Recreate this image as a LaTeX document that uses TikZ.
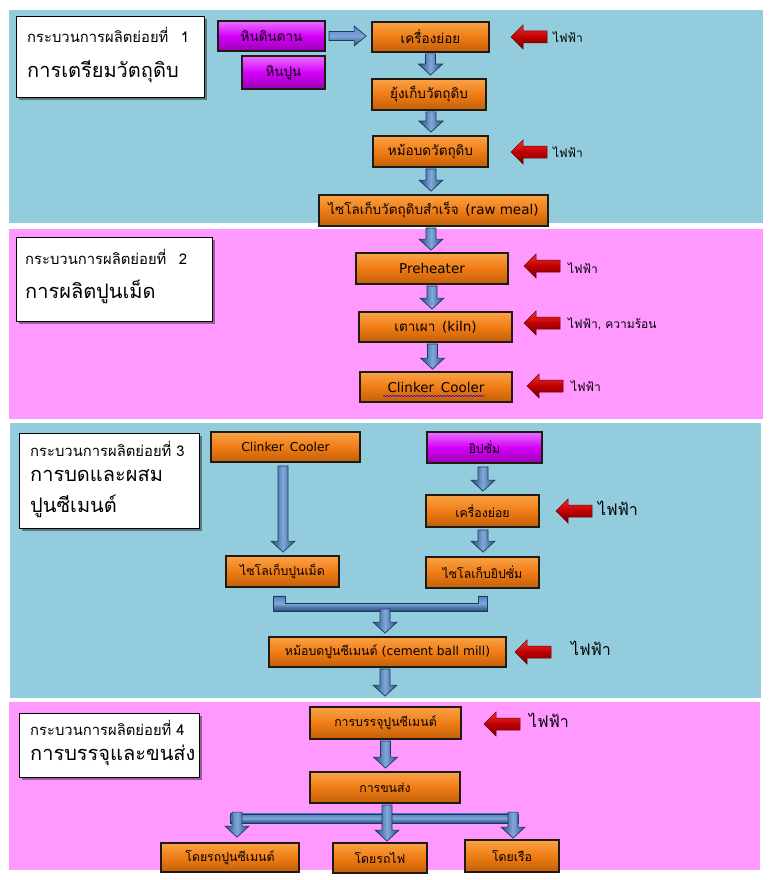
\documentclass[tikz,border=0pt]{standalone}
\usepackage{fontspec}
\setmainfont[Script=Thai]{Loma}
\newfontfamily\lat[Scale=1.0]{DejaVu Sans}
\usetikzlibrary{calc,shadows,decorations.pathmorphing}
\definecolor{secblue}{HTML}{93CDDD}
\definecolor{secpink}{HTML}{FF99FF}
\definecolor{orM}{HTML}{F07C14}
\definecolor{orL}{HTML}{F9A347}
\definecolor{orD}{HTML}{C05F0A}
\definecolor{mgM}{HTML}{D500F8}
\definecolor{mgL}{HTML}{E870FF}
\definecolor{mgD}{HTML}{9A00B4}
\definecolor{edgec}{HTML}{1E1A14}
\definecolor{bM}{HTML}{4F81BD}
\definecolor{bL}{HTML}{7FA8DA}
\definecolor{bD}{HTML}{264B78}
\definecolor{bE}{HTML}{1C3A60}
\definecolor{rM}{HTML}{C00000}
\definecolor{rL}{HTML}{F03030}
\definecolor{rD}{HTML}{700000}
\newcommand\bdown[2]{%
  \shadedraw[bluearr] let \p1=#1, \p2=#2 in
   (\x1-5pt,\y1) -- (\x1-5pt,\y2+11pt) -- (\x1-12pt,\y2+11pt) -- (\x1,\y2)
   -- (\x1+12pt,\y2+11pt) -- (\x1+5pt,\y2+11pt) -- (\x1+5pt,\y1) -- cycle;}
\newcommand\redarr[1]{%
  \shadedraw[redarr] let \p1=#1 in
   (\x1,\y1) -- (\x1+12pt,\y1+12pt) -- (\x1+12pt,\y1+6pt) -- (\x1+36pt,\y1+6pt)
   -- (\x1+36pt,\y1-6pt) -- (\x1+12pt,\y1-6pt) -- (\x1+12pt,\y1-12pt) -- cycle;}
\begin{document}
\begin{tikzpicture}[x=1pt,y=-1pt,
 obox/.style={draw=edgec, line width=1.8pt, top color=orL, bottom color=orD, middle color=orM, inner sep=0pt, font=\fontsize{13.5}{15}\selectfont},
 sbox/.style={obox, font=\fontsize{12.3}{14}\selectfont},
 mbox/.style={obox, top color=mgL, bottom color=mgD, middle color=mgM},
 tbox/.style={draw=black, line width=1.2pt, fill=white, drop shadow={shadow xshift=2pt, shadow yshift=-2pt, opacity=0.4, fill=black}, inner sep=0pt, anchor=north west},
 bluearr/.style={draw=bE, line width=0.7pt, left color=bD, right color=bD, middle color=bL},
 pipe/.style={draw=bE, line width=0.7pt, top color=bM, bottom color=bD, middle color=bL},
 redarr/.style={draw=rD, line width=0.5pt, top color=rL, bottom color=rD, middle color=rM},
 elab/.style={anchor=west, inner sep=0pt, font=\fontsize{12}{14}\selectfont},
 elabL/.style={anchor=west, inner sep=0pt, font=\fontsize{16}{18}\selectfont},
 ttl/.style={anchor=west, inner sep=0pt, font=\fontsize{14.8}{16}\selectfont},
 ttlL/.style={anchor=west, inner sep=0pt, font=\fontsize{20}{22}\selectfont},
]
\useasboundingbox (0,0) rectangle (770,880);
% section panels
\fill[secblue] (9,10) rectangle (763,223);
\fill[secpink] (9,229) rectangle (763,419);
\fill[secblue] (10,423) rectangle (761,698);
\fill[secpink] (9,702) rectangle (760,870);

% title boxes
\node[tbox, minimum width=188pt, minimum height=81pt] (t1) at (16,16) {};
\node[ttl] (t1a) at (27,35) {กระบวนการผลิตย่อยที่\enspace\ 1};
\node[ttlL] (t1b) at (27,72) {การเตรียมวัตถุดิบ};
\node[tbox, minimum width=196pt, minimum height=84pt] (t2) at (16,237) {};
\node[ttl] (t2a) at (25,257) {กระบวนการผลิตย่อยที่\enspace\ 2};
\node[ttlL] (t2b) at (25,292) {การผลิตปูนเม็ด};
\node[tbox, minimum width=180pt, minimum height=95pt] (t3) at (19,433) {};
\node[ttl] (t3a) at (30,449) {กระบวนการผลิตย่อยที่ 3};
\node[ttlL] (t3b) at (30,476) {การบดและผสม};
\node[ttlL] (t3c) at (30,506) {ปูนซีเมนต์};
\node[tbox, minimum width=180pt, minimum height=64pt] (t4) at (19,713) {};
\node[ttl] (t4a) at (30,728) {กระบวนการผลิตย่อยที่ 4};
\node[ttlL] (t4b) at (30,755) {การบรรจุและขนส่ง};

% section 1
\node[mbox, minimum width=107pt, minimum height=30pt] (hindin) at (271.5,36) {หินดินดาน};
\node[mbox, minimum width=83pt, minimum height=33pt] (hinpun) at (283.5,72.5) {หินปูน};
\node[obox, minimum width=117pt, minimum height=30pt] (crush1) at (430.5,37) {เครื่องย่อย};
\node[obox, minimum width=114pt, minimum height=31pt] (store) at (429,94.5) {ยุ้งเก็บวัตถุดิบ};
\node[obox, minimum width=115pt, minimum height=31pt] (mill1) at (430.5,151.5) {หม้อบดวัตถุดิบ};
\node[obox, minimum width=229pt, minimum height=31pt] (rawsilo) at (433.5,210.5) {ไซโลเก็บวัตถุดิบสำเร็จ\enspace{\lat (raw meal)}};

% section 2
\node[obox, minimum width=152pt, minimum height=31pt] (pre) at (432,268.5) {\lat Preheater};
\node[obox, minimum width=153pt, minimum height=30pt] (kiln) at (435.5,327) {เตาเผา\enspace{\lat (kiln)}};
\node[obox, minimum width=152pt, minimum height=30pt] (cool) at (436,387) {\lat Clinker\enspace Cooler};
\draw[blue!60!violet, line width=0.5pt, decorate, decoration={snake, amplitude=0.7pt, segment length=3pt}]
  ($(cool.center)+(-53,9)$) -- ($(cool.center)+(49,9)$);

% section 3
\node[sbox, minimum width=149pt, minimum height=30pt] (cool2) at (285.5,447) {\lat Clinker\enspace Cooler};
\node[sbox, top color=mgL, bottom color=mgD, middle color=mgM, minimum width=115pt, minimum height=31pt] (gyp) at (484.5,447.5) {ยิปซั่ม};
\node[sbox, minimum width=113pt, minimum height=32pt] (crush2) at (482.5,511) {เครื่องย่อย};
\node[sbox, minimum width=113pt, minimum height=31pt] (silo1) at (282.5,571.5) {ไซโลเก็บปูนเม็ด};
\node[sbox, minimum width=113pt, minimum height=31pt] (silo2) at (482.5,572.5) {ไซโลเก็บยิปซั่ม};
\node[sbox, minimum width=237pt, minimum height=30pt] (mill2) at (387.5,652) {หม้อบดปูนซีเมนต์ {\lat (cement ball mill)}};

% section 4
\node[sbox, minimum width=151pt, minimum height=32pt] (pack) at (385.5,723) {การบรรจุปูนซีเมนต์};
\node[sbox, minimum width=150pt, minimum height=31pt] (trans) at (385,787.5) {การขนส่ง};
\node[sbox, minimum width=138pt, minimum height=29pt] (truck) at (230,857.5) {โดยรถปูนซีเมนต์};
\node[sbox, minimum width=94pt, minimum height=30pt] (train) at (380,858) {โดยรถไฟ};
\node[sbox, minimum width=94pt, minimum height=32pt] (ship) at (512,856) {โดยเรือ};

% blue connectors
\shadedraw[pipe] let \p1=($(hindin.east)+(3,0)$), \p2=($(crush1.west)+(-5,0)$) in
  (\x1,\y1+4.5pt) -- (\x2-12pt,\y1+4.5pt) -- (\x2-12pt,\y1+10pt) -- (\x2,\y1)
  -- (\x2-12pt,\y1-10pt) -- (\x2-12pt,\y1-4.5pt) -- (\x1,\y1-4.5pt) -- cycle;
\bdown{($(crush1.south)+(0,1)$)}{($(store.north)+(0,-3)$)}
\bdown{($(store.south)+(2,1)$)}{($(mill1.north)+(0,-3)$)}
\bdown{($(mill1.south)+(0.5,1)$)}{($(rawsilo.north)+(0,-3)$)}
\bdown{($(rawsilo.south)+(-2.5,1)$)}{($(pre.north)+(0,-2)$)}
\bdown{($(pre.south)+(0,1)$)}{($(kiln.north)+(0,-2)$)}
\bdown{($(kiln.south)+(-3,1)$)}{($(cool.north)+(0,-2)$)}
\bdown{($(cool2.south)+(-2.5,3)$)}{($(silo1.north)+(0,-3)$)}
\bdown{($(gyp.south)+(-1.5,3)$)}{($(crush2.north)+(0,-3)$)}
\bdown{($(crush2.south)+(0.5,2)$)}{($(silo2.north)+(0,-4)$)}
\shadedraw[pipe] let \p1=(silo1.south), \p2=(silo2.south) in
  (\x1-9.5pt,\y1-8pt) -- (\x1+2.5pt,\y1-8pt) -- (\x1+2.5pt,\y1-15pt) -- (\x2-4.5pt,\y1-15pt)
  -- (\x2-4.5pt,\y1-8pt) -- (\x2+4.5pt,\y1-8pt) -- (\x2+4.5pt,\y1-23pt) -- (\x1-9.5pt,\y1-23pt) -- cycle;
\bdown{($(mill2.north)+(-2.5,-27)$)}{($(mill2.north)+(0,-3)$)}
\bdown{($(mill2.south)+(-2.5,1)$)}{($(pack.north)+(0,-10)$)}
\bdown{($(pack.south)+(0,1)$)}{($(trans.north)+(0,-3)$)}
\shadedraw[pipe] let \p1=(trans.south), \p2=(truck.north), \p3=(ship.north) in
  (\x2,\y1-10pt) -- (\x3+6pt,\y1-10pt) -- (\x3+6pt,\y1-19pt) -- (\x2,\y1-19pt) -- cycle;
\bdown{($(truck.north)+(7,-30)$)}{($(truck.north)+(7,-5)$)}
\bdown{($(ship.north)+(1,-27)$)}{($(ship.north)+(1,-1)$)}
\bdown{($(trans.south)+(2,1)$)}{($(train.north)+(0,-1)$)}

% red energy arrows and labels
\redarr{(511,37)}
\redarr{(511,152)}
\redarr{(524,266)}
\redarr{(524,323)}
\redarr{(527,386)}
\redarr{(556,511)}
\redarr{(515,652)}
\redarr{(484,724)}
\node[elab] (e1) at (553,37) {ไฟฟ้า};
\node[elab] (e2) at (553,152) {ไฟฟ้า};
\node[elab] (e3) at (568,268) {ไฟฟ้า};
\node[elab] (e4) at (568,324) {ไฟฟ้า, ความร้อน};
\node[elab] (e5) at (571,386) {ไฟฟ้า};
\node[elabL] (e6) at (598,508) {ไฟฟ้า};
\node[elabL] (e7) at (571,648) {ไฟฟ้า};
\node[elabL] (e8) at (529,720) {ไฟฟ้า};
\end{tikzpicture}
\end{document}
